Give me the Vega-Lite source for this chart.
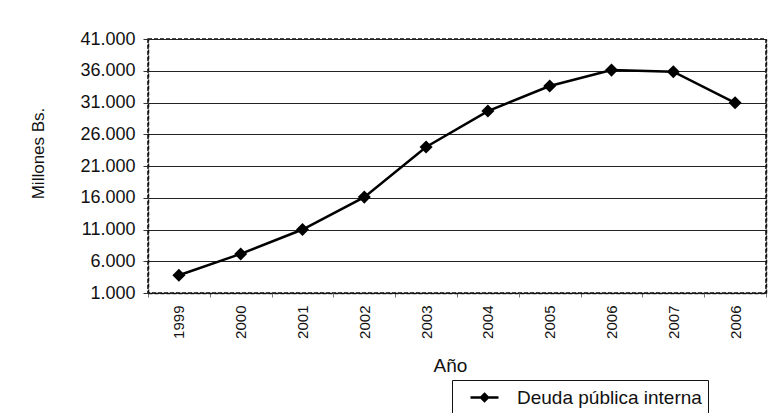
{
  "$schema": "https://vega.github.io/schema/vega-lite/v6.json",
  "width": 618,
  "height": 254,
  "autosize": {"type": "none"},
  "padding": {"left": 148, "top": 39, "right": 6, "bottom": 120},
  "background": "white",
  "config": {
    "locale": {"number": {"decimal": ",", "thousands": ".", "grouping": [3], "currency": ["", ""]}},
    "font": "Liberation Sans",
    "view": {"stroke": "#111", "strokeWidth": 1.5, "strokeDash": [4, 2]}
  },
  "data": {
    "values": [
      {"anio": "1999", "valor": 3800, "serie": "Deuda pública interna"},
      {"anio": "2000", "valor": 7150, "serie": "Deuda pública interna"},
      {"anio": "2001", "valor": 11000, "serie": "Deuda pública interna"},
      {"anio": "2002", "valor": 16100, "serie": "Deuda pública interna"},
      {"anio": "2003", "valor": 24000, "serie": "Deuda pública interna"},
      {"anio": "2004", "valor": 29650, "serie": "Deuda pública interna"},
      {"anio": "2005", "valor": 33600, "serie": "Deuda pública interna"},
      {"anio": "2006", "valor": 36100, "serie": "Deuda pública interna"},
      {"anio": "2007", "valor": 35850, "serie": "Deuda pública interna"},
      {"anio": "2006 ", "valor": 30950, "serie": "Deuda pública interna"}
    ]
  },
  "encoding": {
    "x": {
      "field": "anio",
      "type": "ordinal",
      "sort": null,
      "scale": {"paddingInner": 0, "paddingOuter": 0},
      "axis": {
        "title": "Año",
        "titleFontSize": 19,
        "titleFontWeight": "normal",
        "titleColor": "#111",
        "titleX": 302,
        "titleY": 72,
        "titleBaseline": "middle",
        "labelAngle": -90,
        "labelFontSize": 15,
        "labelColor": "#111",
        "labelPadding": 8,
        "labelBaseline": "middle",
        "tickBand": "extent",
        "tickSize": 4,
        "tickColor": "#777",
        "domain": true,
        "domainColor": "#111",
        "domainDash": [4, 2],
        "domainWidth": 1.5,
        "grid": false
      }
    },
    "color": {
      "field": "serie",
      "type": "nominal",
      "scale": {"range": ["#000000"]},
      "legend": {
        "title": null,
        "orient": "none",
        "legendX": 304,
        "legendY": 341,
        "strokeColor": "#111",
        "padding": 6,
        "labelFontSize": 19,
        "labelColor": "#111",
        "labelLimit": 400,
        "labelOffset": 21,
        "symbolOffset": 15,
        "symbolType": "M-1.4,0L1.4,0M0,-0.35L0.35,0L0,0.35L-0.35,0Z",
        "symbolSize": 400,
        "symbolStrokeWidth": 2.5,
        "symbolFillColor": "#000",
        "symbolStrokeColor": "#000"
      }
    }
  },
  "layer": [
    {
      "mark": {"type": "line", "strokeWidth": 2.5, "color": "#000"},
      "encoding": {
        "y": {
          "field": "valor",
          "type": "quantitative",
          "scale": {"domain": [1000, 41000], "nice": false, "zero": false},
          "axis": {
            "title": "Millones Bs.",
            "titleFontSize": 17,
            "titleFontWeight": "normal",
            "titleColor": "#111",
            "titleX": -110,
            "titleY": 114,
            "titleBaseline": "middle",
            "titleAlign": "center",
            "values": [1000, 6000, 11000, 16000, 21000, 26000, 31000, 36000, 41000],
            "labelExpr": "format(datum.value, ',')",
            "labelFontSize": 18,
            "labelColor": "#111",
            "labelPadding": 8,
            "tickSize": 5,
            "tickColor": "#333",
            "grid": true,
            "gridColor": "#222",
            "gridWidth": 1,
            "domain": true,
            "domainColor": "#111",
            "domainDash": [4, 2],
            "domainWidth": 1.5
          }
        }
      }
    },
    {
      "mark": {"type": "point", "shape": "diamond", "filled": true, "size": 170, "opacity": 1, "color": "#000"},
      "encoding": {
        "y": {
          "field": "valor",
          "type": "quantitative",
          "axis": {
            "orient": "right",
            "title": null,
            "labels": false,
            "ticks": false,
            "grid": false,
            "domain": true,
            "domainColor": "#111",
            "domainDash": [4, 2],
            "domainWidth": 1.5
          }
        }
      }
    }
  ],
  "resolve": {"axis": {"y": "independent"}}
}
